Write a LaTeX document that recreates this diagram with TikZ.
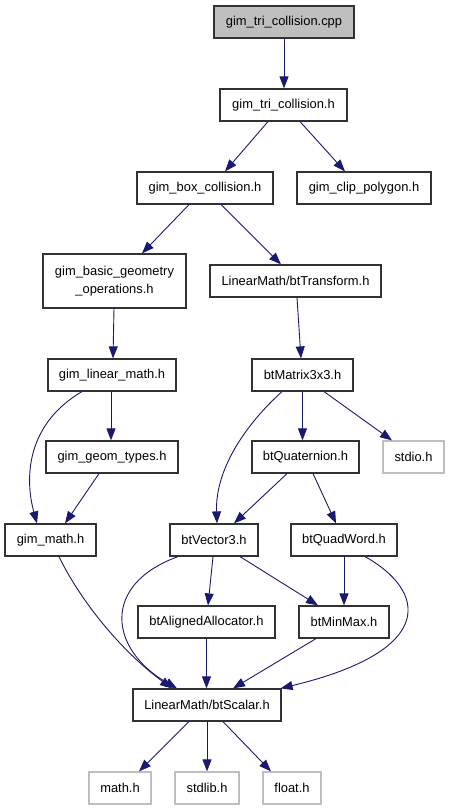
\documentclass[tikz,border=0pt]{standalone}
\usepackage{fontspec}
\setmainfont{Liberation Sans}
\usetikzlibrary{arrows.meta,calc}
\definecolor{edgeblue}{RGB}{25,25,112}
\definecolor{boxline}{RGB}{50,50,50}
\definecolor{lightline}{RGB}{191,191,191}
\definecolor{rootfill}{RGB}{191,191,191}
\tikzset{
  box/.style={draw=boxline, line width=1.2pt, fill=white, inner sep=0pt, minimum height=32pt,
    font=\fontsize{12.9}{15.5}\selectfont, align=center},
  sysbox/.style={box, draw=lightline},
  rootbox/.style={box, fill=rootfill},
  dep/.style={draw=edgeblue, line width=0.9pt, -{Triangle[length=12pt,width=9pt,fill=edgeblue]}}
}
\begin{document}
\begin{tikzpicture}[x=1pt,y=-1pt]
\useasboundingbox (0,0) rectangle (449,811);
\node[rootbox, minimum width=140pt] (cpp) at (284,22) {gim\_tri\_collision.cpp};
\node[box, minimum width=127pt] (tri) at (283.5,105) {gim\_tri\_collision.h};
\node[box, minimum width=136pt] (boxc) at (205,188) {gim\_box\_collision.h};
\node[box, minimum width=134pt] (clip) at (364,188) {gim\_clip\_polygon.h};
\node[box, minimum width=143pt, minimum height=54pt] (basic) at (114.5,281) {gim\_basic\_geometry\\[2pt]\_operations.h};
\node[box, minimum width=171pt] (trans) at (295.5,281) {LinearMath/btTransform.h};
\node[box, minimum width=128pt] (linm) at (112,375) {gim\_linear\_math.h};
\node[box, minimum width=101pt] (mat) at (302.5,375) {btMatrix3x3.h};
\node[box, minimum width=132pt] (geom) at (112,457) {gim\_geom\_types.h};
\node[box, minimum width=107pt] (quat) at (305.5,457) {btQuaternion.h};
\node[sysbox, minimum width=61pt] (stdio) at (413.5,457) {stdio.h};
\node[box, minimum width=91pt] (gmath) at (50.5,540) {gim\_math.h};
\node[box, minimum width=88pt] (vec) at (214,540) {btVector3.h};
\node[box, minimum width=106pt] (quad) at (344,540) {btQuadWord.h};
\node[box, minimum width=137pt] (align) at (206.5,622) {btAlignedAllocator.h};
\node[box, minimum width=90pt] (minmax) at (344,622) {btMinMax.h};
\node[box, minimum width=148pt] (scalar) at (207,705) {LinearMath/btScalar.h};
\node[sysbox, minimum width=62pt] (mathh) at (120,788) {math.h};
\node[sysbox, minimum width=64pt] (stdlib) at (207,788) {stdlib.h};
\node[sysbox, minimum width=58pt] (floath) at (292,788) {float.h};

\draw[dep] (cpp.south) -- (cpp.south |- tri.north);
\draw[dep] ([xshift=-15.5pt]tri.south) -- ([xshift=20pt]boxc.north);
\draw[dep] ([xshift=16.5pt]tri.south) -- ([xshift=-19pt]clip.north);
\draw[dep] ([xshift=-16pt]boxc.south) -- ([xshift=27.5pt]basic.north);
\draw[dep] ([xshift=16pt]boxc.south) -- ([xshift=-14.5pt]trans.north);
\draw[dep] ([xshift=-0.5pt]basic.south) -- ([xshift=1pt]linm.north);
\draw[dep] ([xshift=1.5pt]trans.south) -- ([xshift=-1.5pt]mat.north);
\draw[dep] ([xshift=-1pt]linm.south) -- ([xshift=-1pt]geom.north);
\draw[dep] ([xshift=-30pt]linm.south) .. controls (25,425) and (25,480) .. ([xshift=-13.5pt]gmath.north);
\draw[dep] ([xshift=-13pt]geom.south) -- ([xshift=14.5pt]gmath.north);
\draw[dep] ([xshift=-20.5pt]mat.south) .. controls (245,425) and (215,470) .. ([xshift=3pt]vec.north);
\draw[dep] (mat.south) -- (mat.south |- quat.north);
\draw[dep] ([xshift=21.5pt]mat.south) -- ([xshift=-21.5pt]stdio.north);
\draw[dep] ([xshift=-18.5pt]quat.south) -- ([xshift=20pt]vec.north);
\draw[dep] ([xshift=7.5pt]quat.south) -- ([xshift=-8pt]quad.north);
\draw[dep] ([xshift=-1pt]vec.south) -- ([xshift=1.5pt]align.north);
\draw[dep] ([xshift=26pt]vec.south) -- ([xshift=-26pt]minmax.north);
\draw[dep] ([xshift=-36pt]vec.south) .. controls (100,585) and (110,650) .. ([xshift=-30pt]scalar.north);
\draw[dep] ([xshift=8.5pt]gmath.south) .. controls (80,600) and (120,650) .. ([xshift=-35pt]scalar.north);
\draw[dep] (align.south) -- (align.south |- scalar.north);
\draw[dep] ([xshift=-28pt]minmax.south) -- ([xshift=26pt]scalar.north);
\draw[dep] (quad.south) -- (minmax.north);
\draw[dep] ([xshift=21pt]quad.south) .. controls (425,590) and (440,650) .. ([xshift=-1pt]scalar.north east);
\draw[dep] ([xshift=-18pt]scalar.south) -- ([xshift=19pt]mathh.north);
\draw[dep] (scalar.south) -- (stdlib.north);
\draw[dep] ([xshift=16pt]scalar.south) -- ([xshift=-21pt]floath.north);
\end{tikzpicture}
\end{document}
